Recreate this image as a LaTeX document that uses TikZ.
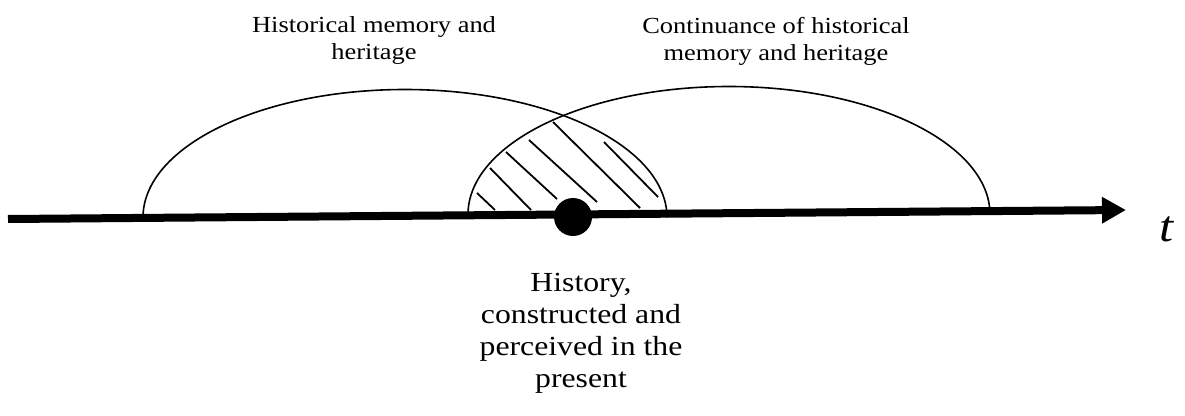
\documentclass[tikz,border=0pt]{standalone}
\usepackage{fontspec}
\setmainfont{Liberation Serif}
\newfontfamily\widefont[FakeStretch=1.15]{Liberation Serif}
\usetikzlibrary{arrows.meta}
\begin{document}
\begin{tikzpicture}[x=1pt,y=-1pt,
  label text/.style={inner sep=0pt, align=center, font=\widefont\fontsize{23}{27}\selectfont},
  big text/.style={inner sep=0pt, align=center, font=\widefont\fontsize{27.6}{32}\selectfont},
  arc line/.style={line width=1.6pt},
  hatch/.style={line width=1.8pt},
  axis/.style={line width=8pt, -{Triangle[length=24pt,width=25pt]}}]
\useasboundingbox (0,0) rectangle (1185,415);
% axis
\coordinate (start) at (8,219);
\coordinate (end) at (1126,210);
\draw[axis] (start) -- (end);
% half ellipses
\draw[arc line] (143,217.5) arc[start angle=180,end angle=0,x radius=262pt,y radius=128pt];
\draw[arc line] (468,214.5) arc[start angle=180,end angle=0,x radius=261pt,y radius=128pt];
% hatching
\draw[hatch] (477,193) -- (495,210);
\draw[hatch] (490,168) -- (531,210);
\draw[hatch] (506,152) -- (557,199);
\draw[hatch] (529,140) -- (597,202);
\draw[hatch] (553,122) -- (640,208);
\draw[hatch] (604,142) -- (658,197);
% present dot
\node[circle, fill=black, minimum size=38pt, inner sep=0pt] (dot) at (573,217) {};
% labels
\node[label text] (hist) at (374,41) {Historical memory and\\heritage};
\node[label text] (cont) at (776,41) {Continuance of historical\\memory and heritage};
\node[big text] (present) at (581,333) {History,\\constructed and\\perceived in the\\present};
\node[inner sep=0pt, font=\widefont\fontsize{44}{44}\selectfont\itshape] (t) at (1167,229) {t};
\end{tikzpicture}
\end{document}
